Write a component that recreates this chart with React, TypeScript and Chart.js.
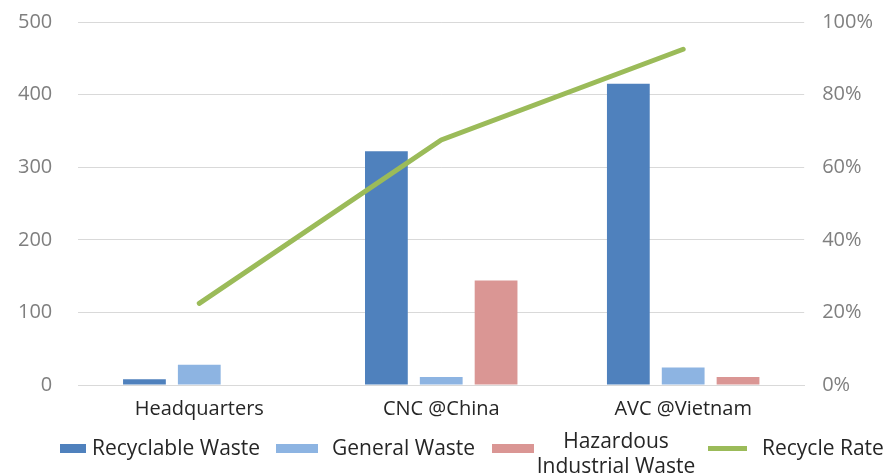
import React, { useEffect, useRef } from "react";
import { Chart, registerables } from "chart.js";

Chart.register(...registerables);

const categories = ["Headquarters", "CNC @China", "AVC @Vietnam"];
const recyclableWaste = [8, 322, 415];
const generalWaste = [28, 11, 24];
const hazardousWaste = [0, 144, 11];
const recycleRate = [0.225, 0.675, 0.925];
const leftTicks = [0, 100, 200, 300, 400, 500];

const FONT = "'Open Sans', sans-serif";

export default function App() {
  const ref = useRef<HTMLCanvasElement | null>(null);
  useEffect(() => {
    if (!ref.current) return;
    const fixTop = (s: any) => {
      s.paddingTop = 22;
    };
    const chart = new Chart(ref.current, {
      data: {
        labels: categories,
        datasets: [
          {
            type: "line",
            label: "Recycle Rate",
            data: recycleRate,
            yAxisID: "y1",
            borderColor: "#9BBB59",
            borderWidth: 5,
            pointRadius: 0,
            borderCapStyle: "round",
            tension: 0,
            order: 0,
          },
          {
            type: "bar",
            label: "Recyclable Waste",
            data: recyclableWaste,
            backgroundColor: "#4F81BD",
            yAxisID: "y",
            categoryPercentage: 0.68,
            barPercentage: 0.78,
            order: 1,
          },
          {
            type: "bar",
            label: "General Waste",
            data: generalWaste,
            backgroundColor: "#8DB4E2",
            yAxisID: "y",
            categoryPercentage: 0.68,
            barPercentage: 0.78,
            order: 1,
          },
          {
            type: "bar",
            label: "Hazardous Industrial Waste",
            data: hazardousWaste,
            backgroundColor: "#DA9694",
            yAxisID: "y",
            categoryPercentage: 0.68,
            barPercentage: 0.78,
            order: 1,
          },
        ],
      } as any,
      options: {
        animation: false,
        responsive: false,
        maintainAspectRatio: false,
        layout: { padding: { left: -8, right: 3, top: 0, bottom: 42 } },
        plugins: { legend: { display: false }, tooltip: { enabled: false } },
        scales: {
          x: {
            grid: { display: false, drawTicks: false },
            border: { display: true, color: "#D9D9D9", width: 1 },
            ticks: { color: "#262626", font: { family: FONT, size: 20 }, padding: 12 },
          },
          y: {
            position: "left",
            min: 0,
            max: 500,
            afterBuildTicks: (axis: any) => {
              axis.ticks = leftTicks.map((v) => ({ value: v }));
            },
            afterFit: fixTop,
            grid: { color: "#D9D9D9", drawTicks: false },
            border: { display: false },
            ticks: { color: "#7F7F7F", font: { family: FONT, size: 20 }, padding: 26 },
          },
          y1: {
            position: "right",
            min: 0,
            max: 1,
            afterFit: fixTop,
            grid: { display: false, drawTicks: false },
            border: { display: false },
            ticks: {
              stepSize: 0.2,
              color: "#7F7F7F",
              font: { family: FONT, size: 20 },
              padding: 18,
              callback: (v: any) => Math.round(Number(v) * 100) + "%",
            },
          },
        },
      },
    });
    return () => chart.destroy();
  }, []);

  const textStyle: React.CSSProperties = {
    position: "absolute",
    fontFamily: FONT,
    fontSize: 21,
    color: "#262626",
    whiteSpace: "nowrap",
    lineHeight: "25px",
  };
  const box = (left: number, color: string, h = 9): React.CSSProperties => ({
    position: "absolute",
    left,
    top: 448 - h / 2,
    width: left === 708 ? 39 : left < 100 ? 26 : 42,
    height: h,
    background: color,
  });

  return (
    <div style={{ position: "fixed", left: 0, top: 0, width: 894, height: 475, background: "#fff" }}>
      <canvas ref={ref} width={894} height={475} style={{ display: "block" }} />
      <div style={box(60, "#4F81BD")} />
      <div style={{ ...textStyle, left: 92, top: 435 }}>Recyclable Waste</div>
      <div style={box(276, "#8DB4E2")} />
      <div style={{ ...textStyle, left: 332, top: 435 }}>General Waste</div>
      <div style={box(492, "#DA9694")} />
      <div style={{ ...textStyle, left: 526, top: 428, width: 180, textAlign: "center", whiteSpace: "normal" }}>
        Hazardous
        <br />
        Industrial Waste
      </div>
      <div style={box(708, "#9BBB59", 5)} />
      <div style={{ ...textStyle, left: 762, top: 435 }}>Recycle Rate</div>
    </div>
  );
}
